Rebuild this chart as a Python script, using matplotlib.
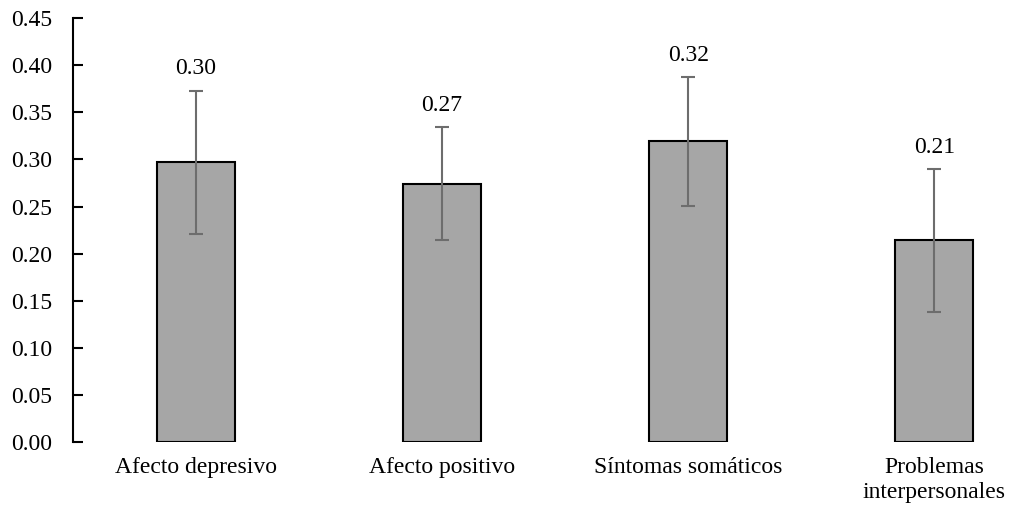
import numpy as np
import matplotlib.pyplot as plt

plt.rcParams['font.family'] = ['Liberation Serif', 'DejaVu Serif']

# Data
categories = ['Afecto depresivo', 'Afecto positivo', 'Síntomas somáticos',
              'Problemas\ninterpersonales']
means = [0.297, 0.274, 0.319, 0.214]
errors = [0.076, 0.060, 0.068, 0.076]
labels = ['0.30', '0.27', '0.32', '0.21']

fig = plt.figure(figsize=(10.12, 5.13), dpi=100)
ax = fig.add_axes([0.072, 0.138, 0.973, 0.827])

x = np.arange(len(categories))
ax.bar(x, means, width=0.317, color='#a6a6a6', edgecolor='black', linewidth=1.5)
ax.errorbar(x, means, yerr=errors, fmt='none', ecolor='#6d6d6d',
            elinewidth=1.5, capsize=5, capthick=1.5)

for xi, m, e, lab in zip(x, means, errors, labels):
    ax.annotate(lab, (xi, m + e), xytext=(0, 8), textcoords='offset points',
                ha='center', va='bottom', fontsize=17)

ax.set_xlim(-0.5, 3.5)
ax.set_ylim(0, 0.45)
ax.set_yticks(np.arange(0, 0.451, 0.05))
ax.yaxis.set_major_formatter(plt.FormatStrFormatter('%.2f'))
ax.set_xticks(x)
ax.set_xticklabels(categories, fontsize=17)
ax.tick_params(axis='y', direction='in', length=7, width=1.5, labelsize=17, pad=15)
ax.tick_params(axis='x', length=0, pad=11)

for s in ['top', 'right', 'bottom']:
    ax.spines[s].set_visible(False)
ax.spines['left'].set_linewidth(1.5)

fig.savefig('out.png', dpi=100)
